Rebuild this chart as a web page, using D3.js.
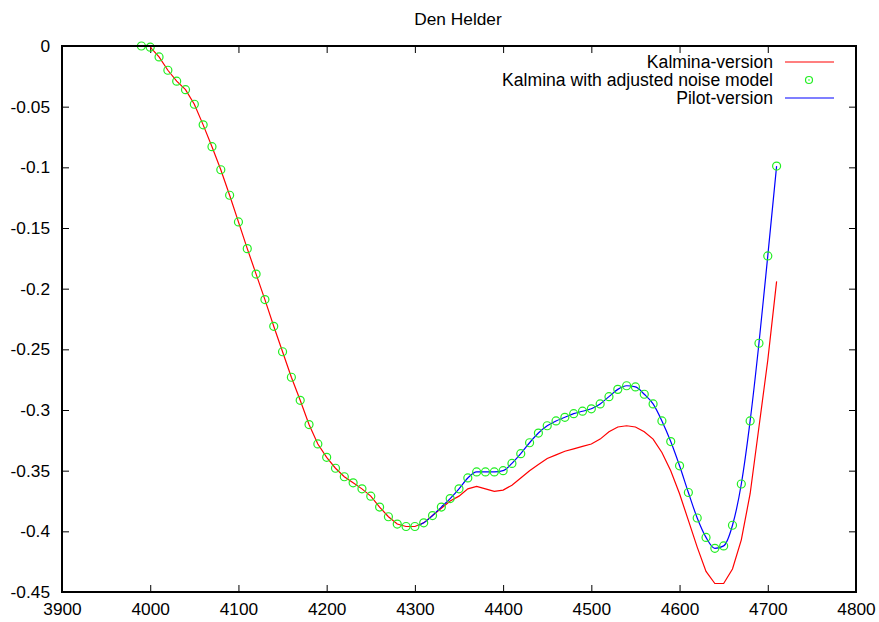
<!DOCTYPE html>
<meta charset="utf-8">
<style>
body { margin: 0; background: white; }
svg { font-family: 'Liberation Sans', Arial, sans-serif; font-size: 17px; }
.axis text { fill: black; }
.axis line { stroke: black; stroke-width: 1; }
</style>
<body>
<script src="https://d3js.org/d3.v7.min.js"></script>
<script>
// x positions of the adjusted run, one per marker
const adjX = [3990, 4000, 4010, 4020, 4030, 4040, 4050, 4060, 4070, 4080, 4090,
  4100, 4110, 4120, 4130, 4140, 4150, 4160, 4170, 4180, 4190,
  4200, 4210, 4220, 4230, 4240, 4250, 4260, 4270, 4280, 4290,
  4300, 4310, 4320, 4330, 4340, 4350, 4360, 4370, 4380, 4390,
  4400, 4410, 4420, 4430, 4440, 4450, 4460, 4470, 4480, 4490,
  4500, 4510, 4520, 4530, 4540, 4550, 4560, 4570, 4580, 4590,
  4600, 4610, 4620, 4630, 4640, 4650, 4660, 4670, 4680, 4690,
  4700, 4710];
const adjY = [0, -0.001, -0.009, -0.020, -0.029, -0.036, -0.048, -0.065, -0.083, -0.102, -0.123,
  -0.145, -0.167, -0.188, -0.209, -0.231, -0.252, -0.273, -0.292, -0.312, -0.328,
  -0.339, -0.348, -0.355, -0.360, -0.365, -0.371, -0.380, -0.388, -0.394, -0.396,
  -0.396, -0.393, -0.387, -0.380, -0.373, -0.365, -0.356, -0.351, -0.351, -0.351,
  -0.350, -0.344, -0.336, -0.327, -0.319, -0.313, -0.309, -0.306, -0.303, -0.301,
  -0.299, -0.295, -0.289, -0.283, -0.280, -0.281, -0.287, -0.295, -0.309, -0.326,
  -0.346, -0.368, -0.389, -0.405, -0.414, -0.412, -0.395, -0.361, -0.309, -0.245,
  -0.173, -0.099];

// Kalmina-version (red)
const kalX = [4000, 4010, 4020, 4030, 4040, 4050, 4060, 4070, 4080, 4090,
  4100, 4110, 4120, 4130, 4140, 4150, 4160, 4170, 4180, 4190,
  4200, 4210, 4220, 4230, 4240, 4250, 4260, 4270, 4280, 4290,
  4300, 4310, 4320, 4330, 4340, 4350, 4360, 4370, 4380, 4390,
  4400, 4410, 4420, 4430, 4440, 4450, 4460, 4470, 4480, 4490,
  4500, 4510, 4520, 4530, 4540, 4550, 4560, 4570, 4580, 4590,
  4600, 4610, 4620, 4630, 4640, 4650, 4660, 4670, 4680, 4690,
  4700, 4710];
const kalY = [-0.001, -0.009, -0.020, -0.029, -0.036, -0.048, -0.065, -0.083, -0.102, -0.123,
  -0.145, -0.167, -0.188, -0.209, -0.231, -0.252, -0.273, -0.292, -0.312, -0.328,
  -0.339, -0.348, -0.355, -0.360, -0.365, -0.371, -0.380, -0.388, -0.394, -0.396,
  -0.396, -0.393, -0.387, -0.381, -0.375, -0.371, -0.365, -0.363, -0.365, -0.367,
  -0.366, -0.362, -0.356, -0.350, -0.345, -0.340, -0.337, -0.334, -0.332, -0.330,
  -0.328, -0.324, -0.318, -0.314, -0.313, -0.314, -0.318, -0.324, -0.335, -0.350,
  -0.369, -0.391, -0.413, -0.433, -0.443, -0.443, -0.431, -0.407, -0.369, -0.314,
  -0.259, -0.194];

// Pilot-version (blue)
const pilX = [4305, 4310, 4320, 4330, 4340, 4350, 4360, 4370, 4380, 4390,
  4400, 4410, 4420, 4430, 4440, 4450, 4460, 4470, 4480, 4490,
  4500, 4510, 4520, 4530, 4540, 4550, 4560, 4570, 4580, 4590,
  4600, 4610, 4620, 4630, 4640, 4650, 4660, 4670, 4680, 4690,
  4700, 4710];
const pilY = [-0.395, -0.393, -0.387, -0.380, -0.373, -0.365, -0.356, -0.351, -0.351, -0.351,
  -0.350, -0.344, -0.336, -0.327, -0.319, -0.313, -0.309, -0.306, -0.303, -0.301,
  -0.299, -0.295, -0.289, -0.283, -0.280, -0.281, -0.287, -0.295, -0.309, -0.326,
  -0.346, -0.368, -0.389, -0.405, -0.414, -0.412, -0.395, -0.361, -0.309, -0.245,
  -0.173, -0.099];

const xTicks = [3900, 4000, 4100, 4200, 4300, 4400, 4500, 4600, 4700, 4800];
const yTicks = [0, -0.05, -0.1, -0.15, -0.2, -0.25, -0.3, -0.35, -0.4, -0.45];
const legendNames = ["Kalmina-version", "Kalmina with adjusted noise model", "Pilot-version"];

const W = 879, H = 622;
const margin = {top: 46, right: 23, bottom: 30, left: 62};
const w = W - margin.left - margin.right,
      h = H - margin.top - margin.bottom;

const svg = d3.select("body").append("svg")
    .attr("width", W)
    .attr("height", H);

const g = svg.append("g")
    .attr("transform", "translate(" + margin.left + "," + margin.top + ")");

const x = d3.scaleLinear().domain([3900, 4800]).range([0, w]);
const y = d3.scaleLinear().domain([-0.45, 0]).range([h, 0]);

// title
svg.append("text")
    .attr("x", 458).attr("y", 25)
    .attr("text-anchor", "middle")
    .style("font-size", "17.3px")
    .text("Den Helder");

// axes, ticks pointing inwards, mirrored on top / right
const fmtY = d => d === 0 ? "0" : String(+d.toFixed(2));

g.append("g").attr("class", "axis")
    .attr("transform", "translate(0," + h + ")")
    .call(d3.axisBottom(x).tickValues(xTicks).tickSize(-7).tickPadding(11).tickFormat(d3.format("d")))
    .call(a => a.select(".domain").remove());
g.append("g").attr("class", "axis")
    .call(d3.axisTop(x).tickValues(xTicks).tickSize(-7).tickFormat(""))
    .call(a => a.select(".domain").remove());
g.append("g").attr("class", "axis")
    .call(d3.axisLeft(y).tickValues(yTicks).tickSize(-7).tickPadding(12).tickFormat(fmtY))
    .call(a => a.select(".domain").remove());
g.append("g").attr("class", "axis")
    .attr("transform", "translate(" + w + ",0)")
    .call(d3.axisRight(y).tickValues(yTicks).tickSize(-7).tickFormat(""))
    .call(a => a.select(".domain").remove());

g.selectAll(".axis text").style("font-size", "17.3px").style("font-family", "'Liberation Sans', Arial, sans-serif");

// lines
const line = d3.line().x(d => x(d[0])).y(d => y(d[1]));

g.append("path")
    .datum(d3.zip(kalX, kalY))
    .attr("fill", "none")
    .attr("stroke", "#ff0000")
    .attr("stroke-width", 1.2)
    .attr("d", line);

g.append("path")
    .datum(d3.zip(pilX, pilY))
    .attr("fill", "none")
    .attr("stroke", "#0000ff")
    .attr("stroke-width", 1.2)
    .attr("d", line.curve(d3.curveMonotoneX));

g.selectAll("circle.adj")
    .data(d3.zip(adjX, adjY))
  .enter().append("circle")
    .attr("class", "adj")
    .attr("cx", d => x(d[0]))
    .attr("cy", d => y(d[1]))
    .attr("r", 4)
    .attr("fill", "none")
    .attr("stroke", "#22ee22")
    .attr("stroke-width", 1.2);

// frame
g.append("rect")
    .attr("width", w).attr("height", h)
    .attr("fill", "none")
    .attr("stroke", "black")
    .attr("stroke-width", 2);

// legend
const leg = svg.append("g").style("font-size", "17.6px");
legendNames.forEach(function(name, i) {
  const ly = 62 + i * 18;
  leg.append("text")
      .attr("x", 773).attr("y", ly)
      .attr("dy", "0.35em")
      .attr("text-anchor", "end")
      .text(name);
  if (i === 1) {
    leg.append("circle").attr("cx", 809).attr("cy", ly).attr("r", 3.5)
        .attr("fill", "none").attr("stroke", "#22ee22").attr("stroke-width", 1.2);
    leg.append("circle").attr("cx", 809).attr("cy", ly).attr("r", 0.8).attr("fill", "#22ee22");
  } else {
    leg.append("line")
        .attr("x1", 785).attr("x2", 834)
        .attr("y1", ly).attr("y2", ly)
        .attr("stroke", i === 0 ? "#ff0000" : "#0000ff")
        .attr("stroke-width", 1.2);
  }
});
</script>
</body>
